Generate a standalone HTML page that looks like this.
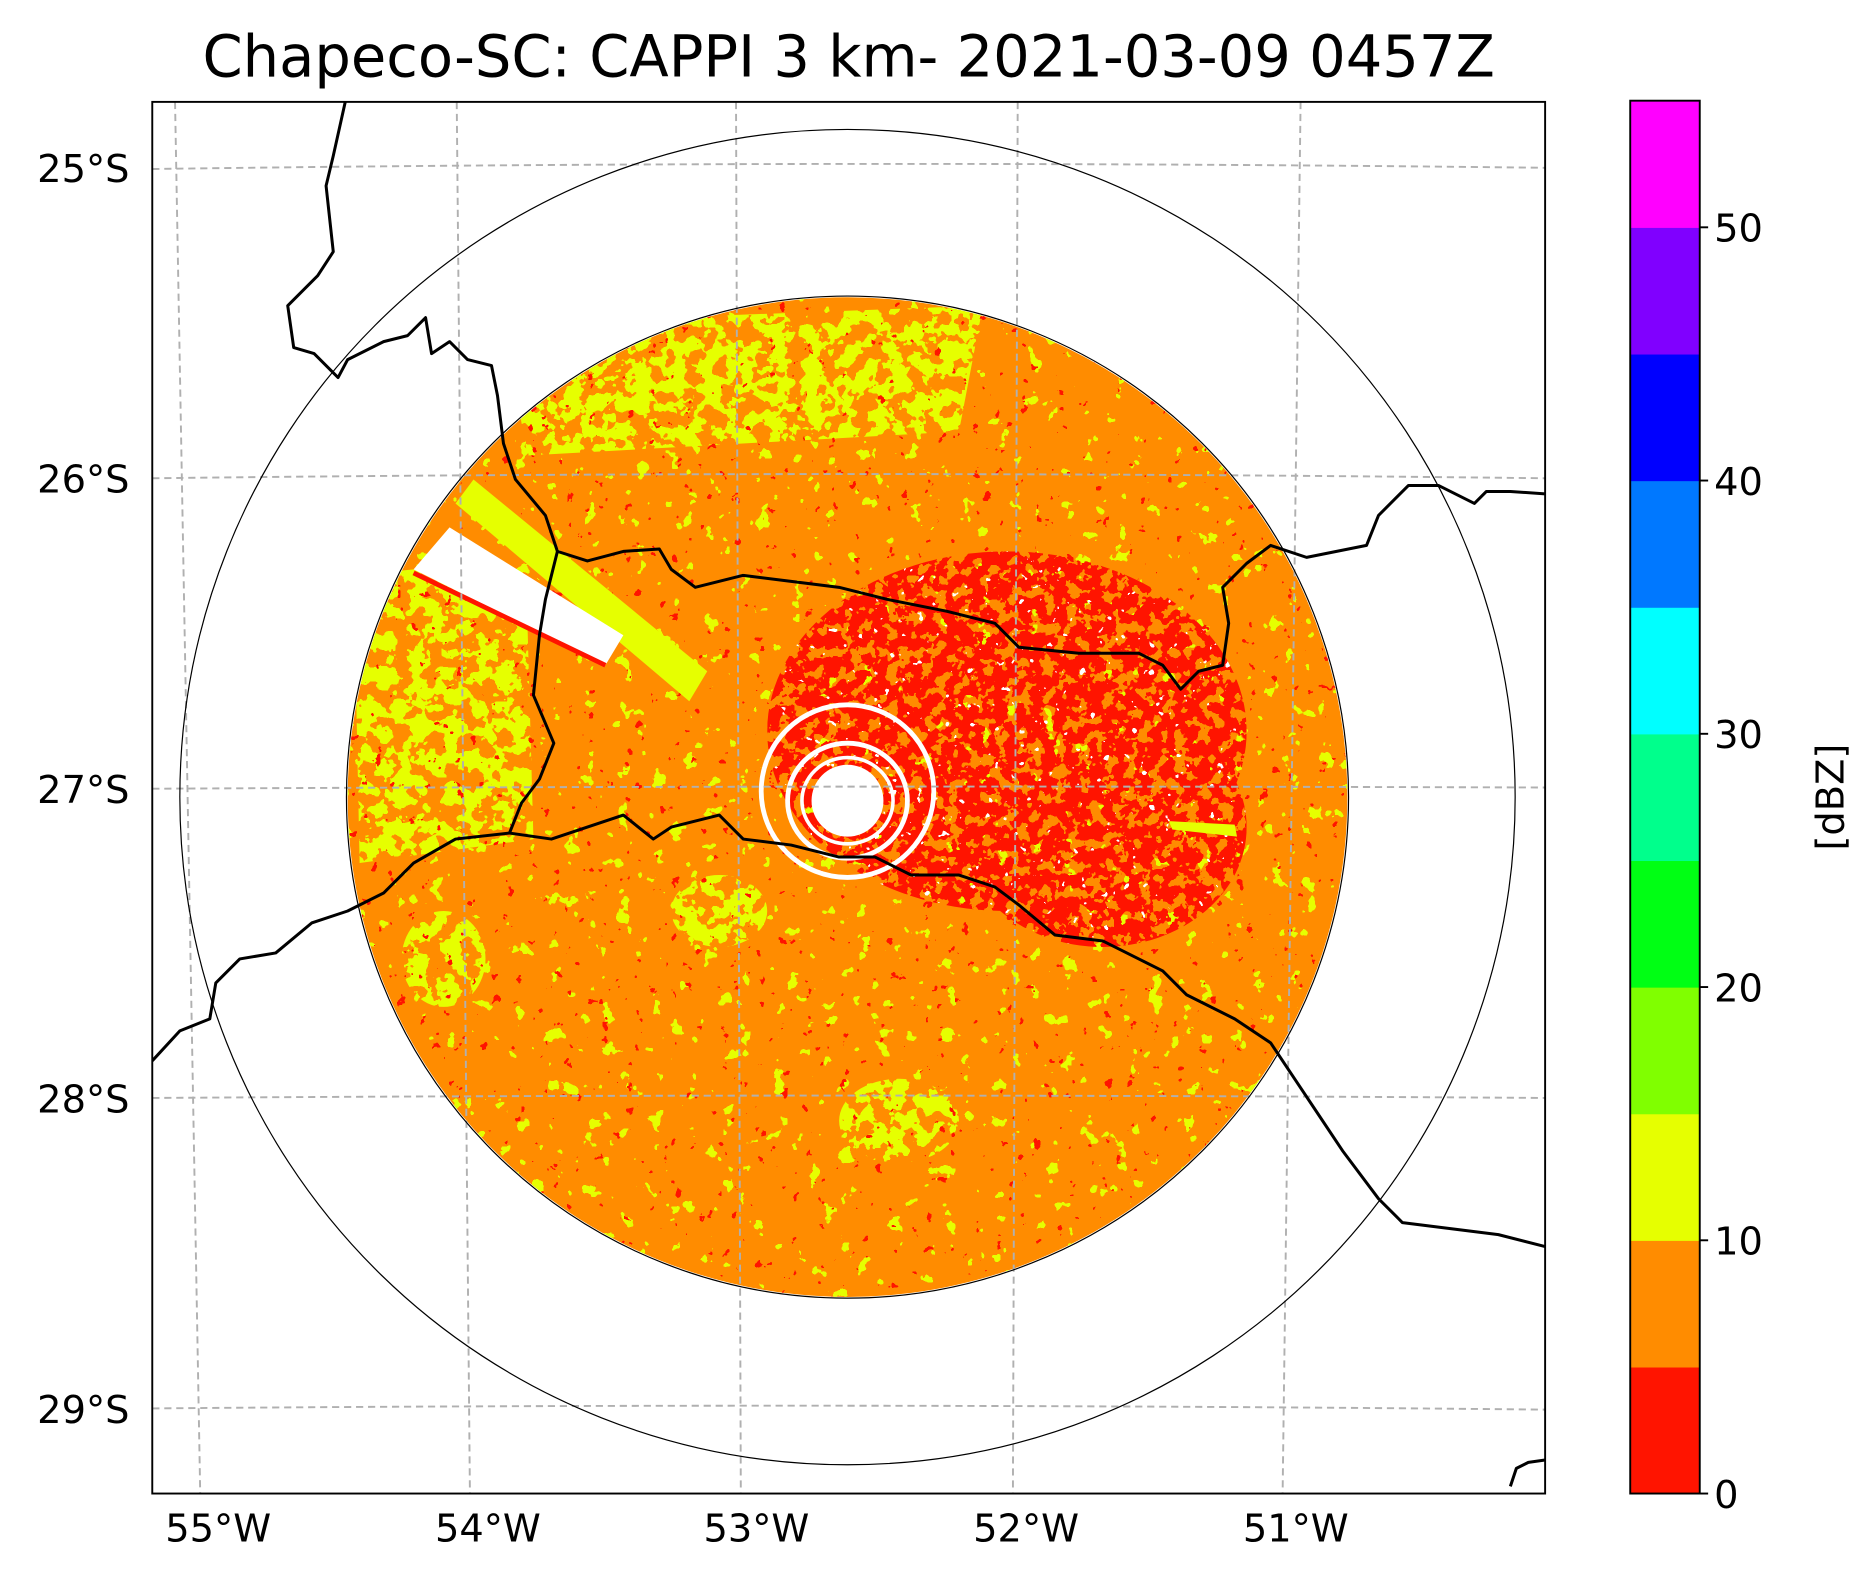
<!DOCTYPE html>
<html><head><meta charset="utf-8"><style>
html,body{margin:0;padding:0;background:#fff;}
svg{display:block;font-family:"DejaVu Sans","Liberation Sans",sans-serif;}
</style></head><body>
<svg id="fig" width="1870" height="1579" viewBox="0 0 1560 1317.3" xmlns="http://www.w3.org/2000/svg">
<defs>
  <clipPath id="disk"><circle cx="707" cy="665" r="417"/></clipPath>
  <clipPath id="axclip"><rect x="127" y="85" width="1162" height="1161"/></clipPath>
  <clipPath id="redclip"><ellipse cx="840" cy="610" rx="200" ry="150"/><ellipse cx="920" cy="690" rx="120" ry="100"/></clipPath>
  <clipPath id="westclip"><path d="M295,480 L345,475 L440,520 L445,700 L300,720 Z"/><path d="M420,270 L820,255 L800,360 L440,380 Z"/><ellipse cx="750" cy="935" rx="50" ry="35"/><ellipse cx="370" cy="800" rx="35" ry="40"/><ellipse cx="600" cy="760" rx="40" ry="30"/></clipPath>
  <filter id="spkY" x="0" y="0" width="100%" height="100%" color-interpolation-filters="sRGB">
    <feTurbulence type="fractalNoise" baseFrequency="0.07" numOctaves="3" seed="4"/>
    <feColorMatrix type="matrix" values="0 0 0 0 0.9  0 0 0 0 1  0 0 0 0 0  1 0 0 0 0"/>
    <feComponentTransfer><feFuncA type="discrete" tableValues="0 0 0 0 0 0 0 0 0 0 0 0 0 0 1 1 1 1 1 1"/></feComponentTransfer>
  </filter>
  <filter id="spkYd" x="0" y="0" width="100%" height="100%" color-interpolation-filters="sRGB">
    <feTurbulence type="fractalNoise" baseFrequency="0.07" numOctaves="3" seed="7"/>
    <feColorMatrix type="matrix" values="0 0 0 0 0.9  0 0 0 0 1  0 0 0 0 0  1 0 0 0 0"/>
    <feComponentTransfer><feFuncA type="discrete" tableValues="0 0 0 0 0 0 0 0 0 0 1 1 1 1 1 1 1 1 1 1"/></feComponentTransfer>
  </filter>
  <filter id="spkR" x="0" y="0" width="100%" height="100%" color-interpolation-filters="sRGB">
    <feTurbulence type="fractalNoise" baseFrequency="0.1" numOctaves="3" seed="9"/>
    <feColorMatrix type="matrix" values="0 0 0 0 1  0 0 0 0 0.08  0 0 0 0 0  1 0 0 0 0"/>
    <feComponentTransfer><feFuncA type="discrete" tableValues="0 0 0 0 0 0 0 0 0 0 0 0 0 0 0 1 1 1 1 1"/></feComponentTransfer>
  </filter>
  <filter id="spkR2" x="0" y="0" width="100%" height="100%" color-interpolation-filters="sRGB">
    <feTurbulence type="fractalNoise" baseFrequency="0.1" numOctaves="3" seed="2"/>
    <feColorMatrix type="matrix" values="0 0 0 0 1  0 0 0 0 0.08  0 0 0 0 0  1 0 0 0 0"/>
    <feComponentTransfer><feFuncA type="discrete" tableValues="0 0 0 0 0 0 0 0 0 1 1 1 1 1 1 1 1 1 1 1"/></feComponentTransfer>
  </filter>
  <filter id="spkW" x="0" y="0" width="100%" height="100%" color-interpolation-filters="sRGB">
    <feTurbulence type="fractalNoise" baseFrequency="0.14" numOctaves="2" seed="5"/>
    <feColorMatrix type="matrix" values="0 0 0 0 1  0 0 0 0 1  0 0 0 0 1  1 0 0 0 0"/>
    <feComponentTransfer><feFuncA type="discrete" tableValues="0 0 0 0 0 0 0 0 0 0 0 0 0 0 0 1 1 1 1 1"/></feComponentTransfer>
  </filter>
</defs>

<text x="708" y="64" font-size="48" text-anchor="middle">Chapeco-SC: CAPPI 3 km- 2021-03-09 0457Z</text>

<g clip-path="url(#axclip)">
  <g clip-path="url(#disk)">
    <rect x="280" y="240" width="860" height="850" fill="#ff8c00"/>
    <rect x="280" y="240" width="860" height="850" filter="url(#spkY)"/>
    <g clip-path="url(#westclip)"><rect x="280" y="240" width="860" height="850" filter="url(#spkYd)"/></g>
    <g clip-path="url(#redclip)">
      <rect x="620" y="450" width="520" height="360" filter="url(#spkR2)"/>
      <rect x="620" y="450" width="520" height="360" filter="url(#spkW)"/>
    </g>
    <rect x="280" y="240" width="860" height="850" filter="url(#spkR)"/>
    <path d="M380,420 L395,400 L590,560 L575,585 Z" fill="#e6ff00"/>
    <path d="M345,475 L375,440 L520,530 L505,555 Z" fill="#fff"/>
    <path d="M345,478 L505,555" stroke="#ff1400" stroke-width="4"/>
    <path d="M975,685 L1030,688 L1032,698 L978,692 Z" fill="#e6ff00"/>
  </g>
  <g fill="none" stroke="#fff">
    <circle cx="707" cy="668" r="30" fill="#fff" stroke="none"/>
    <ellipse cx="707" cy="660" rx="72" ry="72" stroke-width="4"/>
    <ellipse cx="707" cy="668" rx="50" ry="48" stroke-width="4"/>
    <ellipse cx="707" cy="668" rx="38" ry="36" stroke-width="3"/>
  </g>
  <g stroke="#b0b0b0" stroke-width="1.6" stroke-dasharray="6,4" fill="none">
    <line x1="146" y1="85" x2="167" y2="1246"/>
    <line x1="381" y1="85" x2="392" y2="1246"/>
    <line x1="614" y1="85" x2="618" y2="1246"/>
    <line x1="849" y1="85" x2="845" y2="1246"/>
    <line x1="1085" y1="85" x2="1070" y2="1246"/>
    <path d="M127,141 Q708,133 1289,140"/>
    <path d="M127,399 Q708,392 1289,399"/>
    <path d="M127,658 Q708,655 1289,657"/>
    <path d="M127,916 Q708,912 1289,916"/>
    <path d="M127,1175 Q708,1170 1289,1176"/>
  </g>
  <circle cx="707" cy="665" r="418" fill="none" stroke="#000" stroke-width="1"/>
  <circle cx="707" cy="665" r="557" fill="none" stroke="#000" stroke-width="1"/>
  <g fill="none" stroke="#000" stroke-width="2.5" stroke-linejoin="round">
    <polyline points="288,85 278,130 272,155 278,210 265,230 240,255 245,290 262,295 282,315 290,300 320,285 340,280 355,265 360,295 375,285 390,300 410,305 415,330 420,370 430,400 455,430 465,460"/>
    <polyline points="465,460 490,468 520,460 550,458 560,475 580,490 620,480 660,485 700,490 740,500 790,510 830,520 850,540 900,545 950,545 970,555 985,575 1000,560 1020,555 1025,520 1020,490 1040,470 1060,455 1090,465 1140,455 1150,430 1175,405 1200,405 1230,420 1240,410 1260,410 1289,412"/>
    <polyline points="465,460 455,500 450,530 445,580 462,620 450,650 435,670 425,695"/>
    <polyline points="127,885 150,860 175,850 180,820 200,800 230,795 260,770 290,760 320,745 345,720 380,700 425,695 460,700 490,690 520,680 545,700 560,690 600,680 620,700 660,705 700,715 730,715 760,730 800,730 830,740 850,755 880,780 920,785 950,800 970,810 990,830 1030,850 1060,870 1080,900 1100,930 1120,960 1150,1000 1170,1020 1210,1025 1250,1030 1289,1040"/>
    <polyline points="1260,1240 1265,1225 1275,1220 1289,1218"/>
  </g>
</g>
<rect x="127" y="85" width="1162" height="1161" fill="none" stroke="#000" stroke-width="1.6"/>

<g font-size="32" text-anchor="end">
  <text x="108" y="152">25°S</text><text x="108" y="411">26°S</text><text x="108" y="670">27°S</text><text x="108" y="928">28°S</text><text x="108" y="1187">29°S</text>
</g>
<g font-size="32" text-anchor="middle">
  <text x="182" y="1286">55°W</text><text x="407" y="1286">54°W</text><text x="631" y="1286">53°W</text><text x="856" y="1286">52°W</text><text x="1081" y="1286">51°W</text>
</g>

<g id="cbar"></g>
<text font-size="32" text-anchor="middle" transform="translate(1538,665) rotate(-90)">[dBZ]</text>

<script>
const levels = [0,5,10,15,20,25,30,35,40,45,50,55];
const colors = ["#ff1400","#ff8c00","#e6ff00","#80ff00","#00ff14","#00ff8c","#00ffff","#0078ff","#0000ff","#8000ff","#ff00ff"];
const tickVals = [0,10,20,30,40,50];
const NS = "http://www.w3.org/2000/svg";
const g = document.getElementById("cbar");
const x0 = 1360, w = 58, yTop = 84, yBot = 1246;
const y = v => yBot - (v - levels[0]) / (levels[levels.length-1] - levels[0]) * (yBot - yTop);
for (let i = 0; i < colors.length; i++) {
  const r = document.createElementNS(NS, "rect");
  r.setAttribute("x", x0); r.setAttribute("width", w);
  r.setAttribute("y", y(levels[i+1])); r.setAttribute("height", y(levels[i]) - y(levels[i+1]) + 0.5);
  r.setAttribute("fill", colors[i]);
  
  
  g.appendChild(r);
}
const fr = document.createElementNS(NS, "rect");
fr.setAttribute("x", x0); fr.setAttribute("y", yTop); fr.setAttribute("width", w); fr.setAttribute("height", yBot - yTop);
fr.setAttribute("fill", "none"); fr.setAttribute("stroke", "#000"); fr.setAttribute("stroke-width", "1.6");


g.appendChild(fr);
tickVals.forEach(v => {
  const l = document.createElementNS(NS, "line");
  l.setAttribute("x1", x0 + w); l.setAttribute("x2", x0 + w + 7);
  l.setAttribute("y1", y(v)); l.setAttribute("y2", y(v));
  l.setAttribute("stroke", "#000"); l.setAttribute("stroke-width", "1.6");
  
  
  g.appendChild(l);
  const t = document.createElementNS(NS, "text");
  t.setAttribute("x", x0 + w + 12); t.setAttribute("y", y(v) + 12);
  t.setAttribute("font-size", "32");
  t.textContent = v;
  
  
  g.appendChild(t);
});
</script>
</svg>
</body></html>
